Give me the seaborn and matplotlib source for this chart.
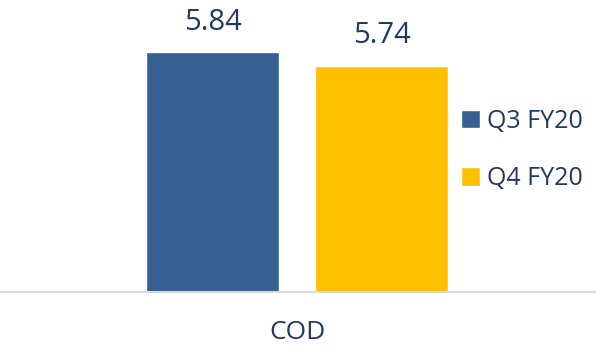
import matplotlib
matplotlib.use("Agg")
import matplotlib.pyplot as plt
import seaborn as sns
import pandas as pd

categories = ["COD"]
periods = ["Q3 FY20", "Q4 FY20"]
values = [5.84, 5.74]
colors = ["#36608F", "#FFC000"]
text_color = "#1F3A5F"

df = pd.DataFrame({"metric": categories * len(periods), "period": periods, "value": values})

sns.set_theme(style="white")
plt.rcParams["font.family"] = ["Open Sans", "DejaVu Sans"]

fig = plt.figure(figsize=(6.05, 3.54), dpi=100)
ax = fig.add_axes([0.0, 62 / 354, 595 / 605, 276 / 354])

sns.barplot(data=df, x="metric", y="value", hue="period", palette=colors,
            gap=0.213, width=0.8, saturation=1, ax=ax, legend=True)

ax.set_ylim(4.1, 6.1)
ax.set_xlim(-0.704, 0.706)

for cont in ax.containers:
    ax.bar_label(cont, labels=[f"{v:.2f}" for v in cont.datavalues],
                 padding=11, fontsize=21, color=text_color)

for s in ["top", "left", "right"]:
    ax.spines[s].set_visible(False)
ax.spines["bottom"].set_color("#D9D9D9")
ax.spines["bottom"].set_linewidth(1.5)
ax.set_yticks([])
ax.set_xlabel("")
ax.set_ylabel("")
ax.tick_params(axis="x", length=0, pad=20, labelsize=19, labelcolor=text_color)

leg = ax.legend(loc="center left", bbox_to_anchor=(451 / 595, 0.515), frameon=False,
                fontsize=18, handlelength=0.75, handleheight=0.75, handletextpad=0.3,
                labelspacing=1.3, borderaxespad=0)
for t in leg.get_texts():
    t.set_color(text_color)

fig.savefig("out.png", dpi=100, facecolor="white")
